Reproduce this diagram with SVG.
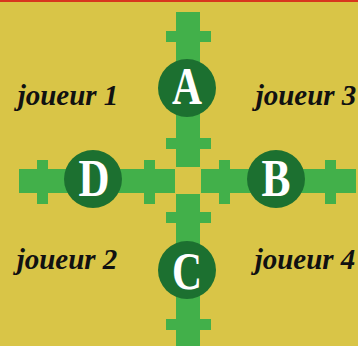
<svg xmlns="http://www.w3.org/2000/svg" width="358" height="346" viewBox="0 0 358 346">
<style>
.bar{fill:#42B04A}
.node circle{fill:#1C7030}
.node text{fill:#ffffff;font-family:"Liberation Serif","DejaVu Serif",serif;font-weight:bold;font-size:52px;text-anchor:middle}
.lbl{fill:#111111;font-family:"Liberation Serif","DejaVu Serif",serif;font-weight:bold;font-style:italic;font-size:29px;text-anchor:middle}
</style>
<rect x="0" y="0" width="358" height="346" fill="#D9C547"/>
<rect x="0" y="0" width="358" height="2" fill="#D8361E"/>
<g id="connectors">
  <rect class="bar" x="176" y="12" width="24" height="155"/>
  <rect class="bar" x="166" y="31" width="45" height="11"/>
  <rect class="bar" x="166" y="138" width="45" height="11"/>
  <rect class="bar" x="176" y="194" width="24" height="152"/>
  <rect class="bar" x="166" y="212" width="45" height="11"/>
  <rect class="bar" x="166" y="319" width="45" height="11"/>
  <rect class="bar" x="19" y="169" width="156" height="24"/>
  <rect class="bar" x="37" y="160" width="11" height="44"/>
  <rect class="bar" x="144" y="160" width="11" height="44"/>
  <rect class="bar" x="201" y="169" width="155" height="24"/>
  <rect class="bar" x="219" y="160" width="11" height="44"/>
  <rect class="bar" x="325" y="160" width="11" height="44"/>
</g>
<g id="A" class="node"><circle cx="187" cy="88" r="29"/><text x="187" y="104" textLength="30" lengthAdjust="spacingAndGlyphs">A</text></g>
<g id="B" class="node"><circle cx="276" cy="179" r="29"/><text x="276" y="196" textLength="29" lengthAdjust="spacingAndGlyphs">B</text></g>
<g id="C" class="node"><circle cx="187" cy="270" r="29"/><text x="187" y="289" textLength="30" lengthAdjust="spacingAndGlyphs">C</text></g>
<g id="D" class="node"><circle cx="93" cy="179" r="29"/><text x="94" y="196" textLength="31" lengthAdjust="spacingAndGlyphs">D</text></g>
<g id="labels">
  <text class="lbl" x="68" y="105">joueur 1</text>
  <text class="lbl" x="306" y="105">joueur 3</text>
  <text class="lbl" x="67" y="269">joueur 2</text>
  <text class="lbl" x="305" y="269">joueur 4</text>
</g>
</svg>
